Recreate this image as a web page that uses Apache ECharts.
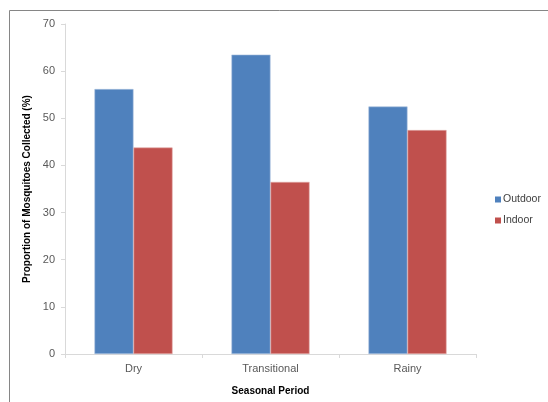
<!DOCTYPE html>
<html>
<head>
<meta charset="utf-8">
<script src="https://cdn.jsdelivr.net/npm/echarts@6/dist/echarts.min.js"></script>
<style>html,body{margin:0;padding:0;background:#fff}#c{width:548px;height:402px}</style>
</head>
<body>
<div id="c"></div>
<script>
var categories = ['Dry', 'Transitional', 'Rainy'];
var outdoor = [56.2, 63.5, 52.5];
var indoor = [43.8, 36.5, 47.5];
var yTicks = [0, 10, 20, 30, 40, 50, 60, 70];

var chart = echarts.init(document.getElementById('c'));
var fontFam = '"Liberation Sans", Arial, sans-serif';
chart.setOption({
  animation: false,
  backgroundColor: '#fff',
  graphic: [{
    type: 'rect', shape: {x: 9.5, y: 10.5, width: 700, height: 600},
    style: {fill: 'none', stroke: '#868686', lineWidth: 1}, silent: true
  }],
  grid: {left: 65, right: 72, top: 24, bottom: 48},
  legend: {
    orient: 'vertical', left: 490, top: 189, itemWidth: 6, itemHeight: 6, itemGap: 10,
    icon: 'rect',
    itemStyle: {borderWidth: 0},
    textStyle: {fontFamily: fontFam, fontSize: 10.5, color: '#404040', padding: [0,0,0,-3]},
    data: ['Outdoor', 'Indoor']
  },
  xAxis: {
    type: 'category', data: categories,
    name: 'Seasonal Period', nameLocation: 'middle', nameGap: 32,
    nameTextStyle: {fontFamily: fontFam, fontSize: 10, fontWeight: 'bold', color: '#000'},
    axisLine: {lineStyle: {color: '#d9d9d9'}},
    axisTick: {show: true, length: 4, lineStyle: {color: '#d9d9d9'}},
    axisLabel: {fontFamily: fontFam, fontSize: 11, color: '#595959', margin: 9}
  },
  yAxis: {
    type: 'value', min: yTicks[0], max: yTicks[yTicks.length - 1], interval: 10,
    name: 'Proportion of Mosquitoes Collected (%)', nameLocation: 'middle', nameGap: 32,
    nameTextStyle: {fontFamily: fontFam, fontSize: 10, fontWeight: 'bold', color: '#000'},
    axisLine: {show: true, lineStyle: {color: '#d9d9d9'}},
    axisTick: {show: true, length: 4, lineStyle: {color: '#d9d9d9'}},
    splitLine: {show: false},
    axisLabel: {fontFamily: fontFam, fontSize: 11, color: '#595959', margin: 10}
  },
  series: [
    {name: 'Outdoor', type: 'bar', data: outdoor, barGap: '0%', barCategoryGap: '43%',
     itemStyle: {color: '#4F81BD', borderColor: '#a7c0de', borderWidth: 0.6}},
    {name: 'Indoor', type: 'bar', data: indoor, barGap: '0%', barCategoryGap: '43%',
     itemStyle: {color: '#C0504D', borderColor: '#e0a8a6', borderWidth: 0.6}}
  ]
});
</script>
</body>
</html>
